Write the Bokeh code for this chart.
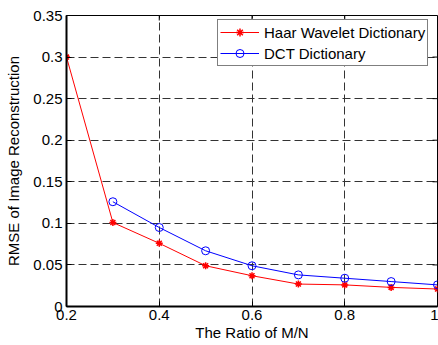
from bokeh.plotting import figure
from bokeh.models import FixedTicker, Range1d, Legend, LegendItem
from bokeh.embed import file_html
from bokeh.resources import INLINE

ratio = [0.2, 0.3, 0.4, 0.5, 0.6, 0.7, 0.8, 0.9, 1.0]
haar = [0.300, 0.101, 0.076, 0.049, 0.037, 0.027, 0.026, 0.023, 0.021]
ratio_dct = [0.3, 0.4, 0.5, 0.6, 0.7, 0.8, 0.9, 1.0]
dct = [0.126, 0.095, 0.067, 0.049, 0.038, 0.034, 0.030, 0.026]
x_ticks = [0.2, 0.4, 0.6, 0.8, 1.0]
y_ticks = [0, 0.05, 0.1, 0.15, 0.2, 0.25, 0.3, 0.35]
x_labels = {0.2: "0.2", 0.4: "0.4", 0.6: "0.6", 0.8: "0.8", 1.0: "1"}
y_labels = {0: "0", 0.05: "0.05", 0.1: "0.1", 0.15: "0.15", 0.2: "0.2",
            0.25: "0.25", 0.3: "0.3", 0.35: "0.35"}

FONT = "Liberation Sans"
FS = "15px"
X0, X1, Y0, Y1 = 0.2, 1.0, 0.0, 0.35

W, H = 438, 345
ML, MR, MT, MB = 66, 1, 15, 39

p = figure(width=W, height=H, output_backend="svg", toolbar_location=None,
           x_range=Range1d(X0, X1), y_range=Range1d(Y0, Y1),
           min_border_left=ML, min_border_right=MR, min_border_top=MT,
           min_border_bottom=MB, background_fill_color="white",
           border_fill_color="white")

p.outline_line_color = "black"
p.outline_line_width = 1

for ax in [p.xaxis[0], p.yaxis[0]]:
    ax.major_label_text_font = FONT
    ax.major_label_text_font_size = FS
    ax.axis_label_text_font = FONT
    ax.axis_label_text_font_size = FS
    ax.axis_label_text_font_style = "normal"
    ax.major_tick_in = 5
    ax.major_tick_out = 0
    ax.minor_tick_in = 0
    ax.minor_tick_out = 0
    ax.axis_line_color = "black"
    ax.axis_line_width = 2
    ax.major_tick_line_color = "black"
    ax.major_label_text_color = "black"
    ax.axis_label_text_color = "black"

p.xaxis[0].ticker = FixedTicker(ticks=x_ticks)
p.yaxis[0].ticker = FixedTicker(ticks=y_ticks)
p.xaxis[0].major_label_overrides = x_labels
p.yaxis[0].major_label_overrides = y_labels
p.xaxis[0].axis_label = "The Ratio of M/N"
p.yaxis[0].axis_label = "RMSE of Image Reconstruction"
p.xaxis[0].axis_label_standoff = 1
p.yaxis[0].axis_label_standoff = 8
p.xaxis[0].major_label_standoff = 3
p.yaxis[0].major_label_standoff = 4

for g in [p.xgrid[0], p.ygrid[0]]:
    g.grid_line_color = "#333333"
    g.grid_line_dash = "8 4"
    g.grid_line_width = 1
p.xgrid[0].ticker = FixedTicker(ticks=x_ticks)
p.ygrid[0].ticker = FixedTicker(ticks=y_ticks)

# inward ticks on the top and right edges of the box
fw = W - ML - MR
fh = H - MT - MB
tx = (X1 - X0) * 5 / fw
ty = (Y1 - Y0) * 5 / fh
p.segment(x0=x_ticks, x1=x_ticks, y0=[Y1] * len(x_ticks), y1=[Y1 - ty] * len(x_ticks),
          line_color="black", line_width=1)
p.segment(x0=[X1] * len(y_ticks), x1=[X1 - tx] * len(y_ticks), y0=y_ticks, y1=y_ticks,
          line_color="black", line_width=1)

hl = p.line(ratio, haar, color="red", line_width=1)
hm = p.scatter(ratio, haar, marker="asterisk", size=7, line_color="red", line_width=1.5)
dl = p.line(ratio_dct, dct, color="blue", line_width=1)
dm = p.scatter(ratio_dct, dct, marker="circle", size=8, line_color="blue",
               fill_color=None, line_width=1)

legend = Legend(items=[LegendItem(label="Haar Wavelet Dictionary", renderers=[hl, hm]),
                       LegendItem(label="DCT Dictionary", renderers=[dl, dm])],
                location=(151, fh - 6 - 45))
legend.label_text_font = FONT
legend.label_text_font_size = FS
legend.label_text_color = "black"
legend.border_line_color = "black"
legend.border_line_width = 1.5
legend.glyph_width = 39
legend.glyph_height = 20
legend.label_height = 20
legend.spacing = 1
legend.padding = 2
legend.margin = 0
legend.label_standoff = 5
legend.background_fill_alpha = 1.0
p.add_layout(legend)

open("out.html", "w").write(file_html(p, INLINE))
